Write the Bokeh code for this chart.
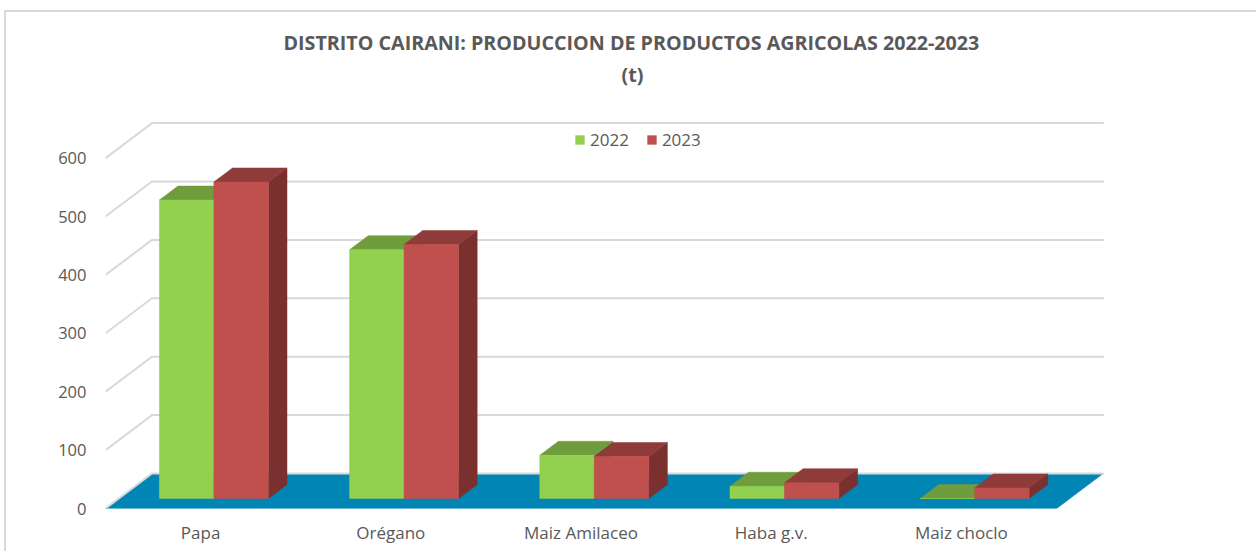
from bokeh.plotting import figure
from bokeh.models import (Range1d, LinearAxis, FixedTicker, Legend, LegendItem, Title)
from bokeh.embed import file_html
from bokeh.resources import INLINE

categories = ["Papa", "Orégano", "Maiz Amilaceo", "Haba g.v.", "Maiz choclo"]
values_2022 = [511, 426, 74, 21, 0]
values_2023 = [542, 435, 72, 27, 18]
y_ticks = [0, 100, 200, 300, 400, 500, 600]
title_lines = ["DISTRITO CAIRANI: PRODUCCION DE PRODUCTOS AGRICOLAS 2022-2023", "(t)"]

W, H = 1256, 553
BORDER_L, BORDER_T, BORDER_W = 4, 10, 2
OFF_X, OFF_Y = BORDER_L + BORDER_W, BORDER_T + 2 * BORDER_W
FRAME_L, FRAME_T, FRAME_B = 105, 92, 508
FRAME_W_PX, FRAME_H_PX = W + 2 - FRAME_L, FRAME_B - FRAME_T + 2
PX_PER_CAT = 190.2
PX_PER_VAL = 0.584
FONT = "Open Sans"
TXT = "#595959"
GRID = "#D9D9D9"

# depth of the floor, in data units
DEPTH_X = 46.5 / PX_PER_CAT
DEPTH_Y = 35 / PX_PER_VAL
# bars
BAR_W = 54.5 / PX_PER_CAT
BAR_FRONT = 10 / 35
BAR_DEPTH = 14 / 35

p = figure(width=W - OFF_X, height=H - OFF_Y, output_backend="svg", toolbar_location=None,
           x_range=Range1d(0, FRAME_W_PX / PX_PER_CAT),
           y_range=Range1d(0, FRAME_H_PX / PX_PER_VAL),
           x_axis_type=None, y_axis_type=None,
           min_border_left=FRAME_L - OFF_X, min_border_right=0, min_border_top=FRAME_T - OFF_Y,
           min_border_bottom=H - FRAME_B, outline_line_color=None,
           background_fill_color="white", border_fill_color="white",
           margin=(BORDER_T, 0, 0, BORDER_L),
           styles={"border-top": f"{BORDER_W}px solid {GRID}",
                   "border-left": f"{BORDER_W}px solid {GRID}",
                   "box-sizing": "content-box"})
p.grid.visible = False

# title
p.add_layout(Title(text=title_lines[1], align="left", offset=516, text_font=FONT,
                   text_font_size="19.7px", text_font_style="bold", text_color=TXT,
                   standoff=5), "above")
p.add_layout(Title(text=title_lines[0], align="left", offset=178, text_font=FONT,
                   text_font_size="19.7px", text_font_style="bold", text_color=TXT,
                   standoff=1), "above")

# axes
yax = LinearAxis(ticker=FixedTicker(ticks=y_ticks), axis_line_color=None,
                 major_tick_line_color=None, minor_tick_line_color=None,
                 major_label_standoff=13, major_label_text_font=FONT,
                 major_label_text_font_size="16.5px", major_label_text_color=TXT)
p.add_layout(yax, "left")
centers = [i + 0.5 for i in range(len(categories))]
xax = LinearAxis(ticker=FixedTicker(ticks=centers), axis_line_color=None,
                 major_tick_line_color=None, minor_tick_line_color=None,
                 major_label_overrides={c: n for c, n in zip(centers, categories)},
                 major_label_standoff=6, major_label_text_font=FONT,
                 major_label_text_font_size="17px", major_label_text_color=TXT)
p.add_layout(xax, "below")

n = len(categories)

# floor
p.patch([0, n, n + DEPTH_X, DEPTH_X], [0, 0, DEPTH_Y, DEPTH_Y],
        fill_color="#0085B5", line_color="#1E93BE", line_width=1)

# wall gridlines
for t in y_ticks:
    p.line([0, DEPTH_X, n + DEPTH_X + 0.005], [t, t + DEPTH_Y, t + DEPTH_Y],
           line_color=GRID, line_width=2)


def box(cx_left, val, front, top, side):
    x0 = cx_left + BAR_FRONT * DEPTH_X
    x1 = x0 + BAR_W
    y0 = BAR_FRONT * DEPTH_Y
    y1 = y0 + val
    ox, oy = BAR_DEPTH * DEPTH_X, BAR_DEPTH * DEPTH_Y
    p.patch([x1, x1 + ox, x1 + ox, x1], [y0, y0 + oy, y1 + oy, y1],
            fill_color=side, line_color=side, line_width=0.5)
    p.patch([x0, x1, x1 + ox, x0 + ox], [y1, y1, y1 + oy, y1 + oy],
            fill_color=top, line_color=top, line_width=0.5)
    return p.patch([x0, x1, x1, x0], [y0, y0, y1, y1],
                   fill_color=front, line_color=front, line_width=0.5)


legend_g = legend_r = None
for i, (a, b) in enumerate(zip(values_2022, values_2023)):
    c = centers[i]
    g = box(c - BAR_W, a, "#92D050", "#6F9C3C", "#5F8A32")
    r = box(c, b, "#C0504D", "#8F3B39", "#7A302E")
    legend_g = legend_g or g
    legend_r = legend_r or r

legend = Legend(items=[LegendItem(label="2022", renderers=[legend_g]),
                       LegendItem(label="2023", renderers=[legend_r])],
                orientation="horizontal", location=(469, 357),
                background_fill_alpha=0, border_line_color=None, padding=0, margin=0,
                glyph_width=11, glyph_height=11, label_standoff=5, spacing=17,
                label_text_font=FONT, label_text_font_size="17px", label_text_color=TXT,
                label_height=11)
p.add_layout(legend, "center")

open("out.html", "w").write(file_html(p, INLINE))
